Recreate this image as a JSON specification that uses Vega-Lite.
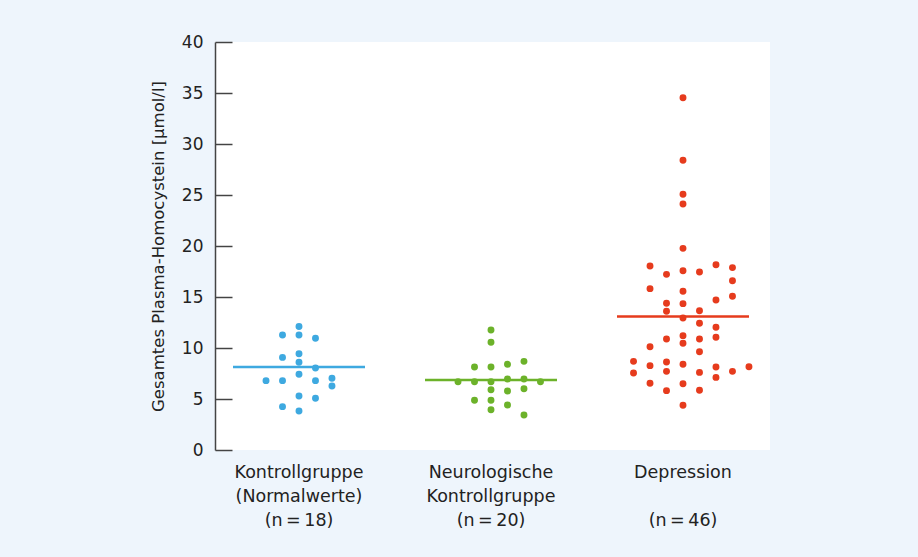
{
  "$schema": "https://vega.github.io/schema/vega-lite/v6.json",
  "width": 555,
  "height": 408,
  "autosize": {"type": "none"},
  "padding": {"left": 215, "top": 42, "right": 148, "bottom": 107},
  "background": "#eef5fc",
  "config": {
    "view": {"fill": "white", "stroke": null},
    "font": "DejaVu Sans"
  },
  "datasets": {
    "points": [
      {"group": "Kontrollgruppe", "col": 0, "value": 12.1},
      {"group": "Kontrollgruppe", "col": -1, "value": 11.27},
      {"group": "Kontrollgruppe", "col": 0, "value": 11.27},
      {"group": "Kontrollgruppe", "col": 1, "value": 10.95},
      {"group": "Kontrollgruppe", "col": -1, "value": 9.08},
      {"group": "Kontrollgruppe", "col": 0, "value": 9.44},
      {"group": "Kontrollgruppe", "col": 0, "value": 8.6},
      {"group": "Kontrollgruppe", "col": 1, "value": 8.04},
      {"group": "Kontrollgruppe", "col": 0, "value": 7.42},
      {"group": "Kontrollgruppe", "col": -2, "value": 6.8},
      {"group": "Kontrollgruppe", "col": -1, "value": 6.8},
      {"group": "Kontrollgruppe", "col": 1, "value": 6.8},
      {"group": "Kontrollgruppe", "col": 2, "value": 7.03},
      {"group": "Kontrollgruppe", "col": 2, "value": 6.27},
      {"group": "Kontrollgruppe", "col": 0, "value": 5.29},
      {"group": "Kontrollgruppe", "col": 1, "value": 5.07},
      {"group": "Kontrollgruppe", "col": -1, "value": 4.25},
      {"group": "Kontrollgruppe", "col": 0, "value": 3.82},
      {"group": "Neurologische Kontrollgruppe", "col": 0, "value": 11.76},
      {"group": "Neurologische Kontrollgruppe", "col": 0, "value": 10.56},
      {"group": "Neurologische Kontrollgruppe", "col": -1, "value": 8.14},
      {"group": "Neurologische Kontrollgruppe", "col": 0, "value": 8.14},
      {"group": "Neurologische Kontrollgruppe", "col": 1, "value": 8.4},
      {"group": "Neurologische Kontrollgruppe", "col": 2, "value": 8.69},
      {"group": "Neurologische Kontrollgruppe", "col": -2, "value": 6.7},
      {"group": "Neurologische Kontrollgruppe", "col": -1, "value": 6.7},
      {"group": "Neurologische Kontrollgruppe", "col": 0, "value": 6.7},
      {"group": "Neurologische Kontrollgruppe", "col": 1, "value": 6.96},
      {"group": "Neurologische Kontrollgruppe", "col": 2, "value": 6.96},
      {"group": "Neurologische Kontrollgruppe", "col": 3, "value": 6.7},
      {"group": "Neurologische Kontrollgruppe", "col": 0, "value": 5.91},
      {"group": "Neurologische Kontrollgruppe", "col": 1, "value": 5.78},
      {"group": "Neurologische Kontrollgruppe", "col": 2, "value": 6.01},
      {"group": "Neurologische Kontrollgruppe", "col": -1, "value": 4.87},
      {"group": "Neurologische Kontrollgruppe", "col": 0, "value": 4.87},
      {"group": "Neurologische Kontrollgruppe", "col": 1, "value": 4.41},
      {"group": "Neurologische Kontrollgruppe", "col": 0, "value": 3.95},
      {"group": "Neurologische Kontrollgruppe", "col": 2, "value": 3.43},
      {"group": "Depression", "col": 0, "value": 34.54},
      {"group": "Depression", "col": 0, "value": 28.4},
      {"group": "Depression", "col": 0, "value": 25.07},
      {"group": "Depression", "col": 0, "value": 24.12},
      {"group": "Depression", "col": 0, "value": 19.77},
      {"group": "Depression", "col": -2, "value": 18.04},
      {"group": "Depression", "col": -1, "value": 17.22},
      {"group": "Depression", "col": 0, "value": 17.58},
      {"group": "Depression", "col": 1, "value": 17.45},
      {"group": "Depression", "col": 2, "value": 18.17},
      {"group": "Depression", "col": 3, "value": 17.88},
      {"group": "Depression", "col": 3, "value": 16.6},
      {"group": "Depression", "col": -2, "value": 15.82},
      {"group": "Depression", "col": 0, "value": 15.56},
      {"group": "Depression", "col": 2, "value": 14.71},
      {"group": "Depression", "col": 3, "value": 15.07},
      {"group": "Depression", "col": -1, "value": 14.38},
      {"group": "Depression", "col": 0, "value": 14.35},
      {"group": "Depression", "col": -1, "value": 13.6},
      {"group": "Depression", "col": 1, "value": 13.66},
      {"group": "Depression", "col": 0, "value": 12.94},
      {"group": "Depression", "col": 1, "value": 12.42},
      {"group": "Depression", "col": 2, "value": 12.03},
      {"group": "Depression", "col": -1, "value": 10.88},
      {"group": "Depression", "col": 0, "value": 11.21},
      {"group": "Depression", "col": 0, "value": 10.46},
      {"group": "Depression", "col": 1, "value": 10.88},
      {"group": "Depression", "col": 2, "value": 11.05},
      {"group": "Depression", "col": -2, "value": 10.13},
      {"group": "Depression", "col": 1, "value": 9.64},
      {"group": "Depression", "col": -3, "value": 8.69},
      {"group": "Depression", "col": -2, "value": 8.27},
      {"group": "Depression", "col": -1, "value": 8.63},
      {"group": "Depression", "col": 0, "value": 8.4},
      {"group": "Depression", "col": 2, "value": 8.14},
      {"group": "Depression", "col": 3, "value": 7.71},
      {"group": "Depression", "col": 4, "value": 8.17},
      {"group": "Depression", "col": -3, "value": 7.55},
      {"group": "Depression", "col": -1, "value": 7.71},
      {"group": "Depression", "col": 1, "value": 7.61},
      {"group": "Depression", "col": 2, "value": 7.12},
      {"group": "Depression", "col": -2, "value": 6.54},
      {"group": "Depression", "col": 0, "value": 6.5},
      {"group": "Depression", "col": -1, "value": 5.82},
      {"group": "Depression", "col": 1, "value": 5.85},
      {"group": "Depression", "col": 0, "value": 4.38}
    ],
    "means": [
      {"group": "Kontrollgruppe", "value": 8.14},
      {"group": "Neurologische Kontrollgruppe", "value": 6.86},
      {"group": "Depression", "value": 13.1}
    ]
  },
  "layer": [
    {
      "mark": {"type": "rule", "color": "#444444", "strokeWidth": 1.5},
      "encoding": {"y": {"datum": 0, "type": "quantitative"}}
    },
    {
      "data": {"name": "points"},
      "mark": {"type": "circle", "size": 48, "opacity": 1},
      "encoding": {
        "x": {
          "field": "group",
          "type": "nominal",
          "sort": null,
          "scale": {
            "domain": ["Kontrollgruppe", "Neurologische Kontrollgruppe", "Depression"],
            "range": [-12, 564],
            "paddingInner": 0,
            "paddingOuter": 0
          },
          "axis": {
            "title": null,
            "ticks": false,
            "domain": false,
            "labelAngle": 0,
            "labelAlign": "center",
            "labelBaseline": "top",
            "labelPadding": 13,
            "labelFontSize": 17.5,
            "labelColor": "#222222",
            "labelLineHeight": 24,
            "labelExpr": "datum.value == 'Kontrollgruppe' ? ['Kontrollgruppe', '(Normalwerte)', '(n\u2009=\u200918)'] : datum.value == 'Neurologische Kontrollgruppe' ? ['Neurologische', 'Kontrollgruppe', '(n\u2009=\u200920)'] : ['Depression', '\u200b', '(n\u2009=\u200946)']",
            "grid": false
          }
        },
        "xOffset": {
          "field": "col",
          "type": "ordinal",
          "scale": {
            "domain": [-5, -4, -3, -2, -1, 0, 1, 2, 3, 4, 5],
            "range": [5.3, 186.7]
          }
        },
        "y": {
          "field": "value",
          "type": "quantitative",
          "scale": {"domain": [0, 40], "nice": false},
          "axis": {
            "title": "Gesamtes Plasma-Homocystein [µmol/l]",
            "titleFontSize": 16.5,
            "titleFontWeight": "normal",
            "titleColor": "#222222",
            "titlePadding": 15,
            "values": [0, 2.5, 5, 7.5, 10, 12.5, 15, 17.5, 20, 22.5, 25, 27.5, 30, 32.5, 35, 37.5, 40],
            "labelExpr": "datum.value % 5 == 0 ? datum.label : ''",
            "tickSize": {"condition": {"test": "datum.value % 5 == 0", "value": -17}, "value": -10},
            "labelPadding": 29,
            "labelFontSize": 17,
            "labelColor": "#222222",
            "tickColor": "#444444",
            "tickWidth": 1.5,
            "domainColor": "#444444",
            "domainWidth": 1.5,
            "grid": false
          }
        },
        "color": {
          "field": "group",
          "type": "nominal",
          "scale": {
            "domain": ["Kontrollgruppe", "Neurologische Kontrollgruppe", "Depression"],
            "range": ["#3ea9e0", "#6cb22a", "#e63b1d"]
          },
          "legend": null
        }
      }
    },
    {
      "data": {"name": "means"},
      "mark": {"type": "tick", "size": 132, "thickness": 2.5, "opacity": 1},
      "encoding": {
        "x": {"field": "group", "type": "nominal", "sort": null},
        "y": {"field": "value", "type": "quantitative"},
        "color": {"field": "group", "type": "nominal", "legend": null}
      }
    }
  ]
}
